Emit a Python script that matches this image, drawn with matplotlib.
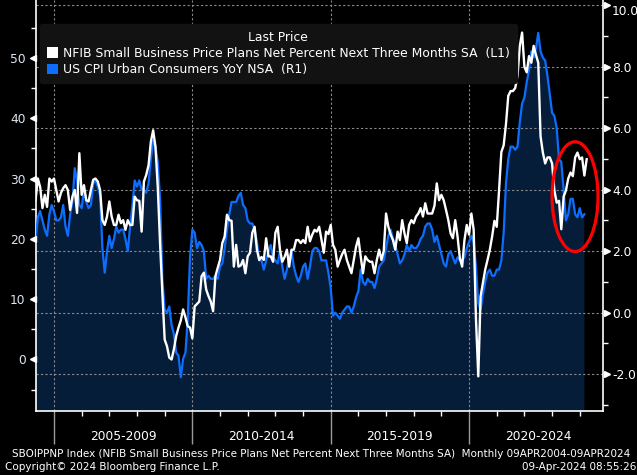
import numpy as np
import matplotlib
matplotlib.use("Agg")
import matplotlib.pyplot as plt
import matplotlib.transforms as mtransforms
from matplotlib.patches import Patch, Ellipse

# ---- data: monthly, Apr 2004 onwards ----
start_year, start_month = 2004, 4

# NFIB Small Business Price Plans Net % Next Three Months SA (left axis), Apr 2004 - Mar 2024
nfib = [
    26.4, 30.0, 28.6, 25.1, 27.3, 25.3, 30.0, 29.5, 30.0,
    28.1, 26.2, 27.6, 28.4, 28.9, 28.1, 24.8, 27.0, 28.1, 24.3, 34.2, 27.3,
    28.9, 26.4, 26.2, 28.1, 29.8, 30.0, 29.5, 28.1, 23.1, 22.3, 23.7, 26.2,
    23.7, 22.3, 22.3, 24.0, 22.6, 23.1, 21.5, 23.1, 22.3, 22.3, 27.0, 26.4,
    26.3, 21.2, 29.5, 30.6, 32.2, 36.1, 38.0, 35.3, 28.6, 19.3, 11.0, 3.3,
    2.2, 0.3, 0.0, 1.7, 3.9, 5.3, 6.5, 8.3, 7.0, 5.5, 5.3, 3.5,
    8.8, 9.2, 9.6, 13.8, 14.4, 11.6, 10.5, 9.6, 8.0, 13.8, 15.2, 16.5,
    19.3, 20.4, 24.0, 23.1, 23.0, 15.4, 19.0, 15.4, 15.6, 16.5, 14.3, 17.1,
    17.7, 21.0, 22.0, 18.2, 16.5, 17.0, 16.5, 20.1, 17.1, 17.1, 16.2, 21.0,
    22.0, 18.2, 16.2, 17.0, 18.2, 15.4, 18.2, 18.2, 19.8, 19.8, 19.3, 19.8,
    19.3, 22.0, 19.6, 20.7, 21.5, 21.2, 22.0, 19.8, 17.7, 21.2, 20.8, 22.3,
    19.0, 18.2, 15.4, 16.5, 17.5, 18.2, 16.5, 15.4, 14.3, 16.5, 18.7, 20.1,
    17.1, 14.3, 17.1, 16.5, 16.2, 16.2, 14.3, 16.5, 18.2, 16.5, 18.0, 24.2,
    22.0, 20.7, 19.8, 18.2, 21.2, 19.8, 23.1, 20.9, 19.3, 22.3, 23.1, 22.6,
    23.7, 24.2, 25.1, 23.7, 25.9, 24.2, 24.2, 24.2, 25.5, 29.2, 26.4, 27.3,
    26.4, 24.8, 23.1, 20.9, 20.1, 23.1, 20.4, 16.8, 15.4, 19.8, 22.3, 20.7,
    24.2, 21.5, 6.6, -2.8, 10.5, 12.7, 14.9, 16.5, 18.2, 20.4, 23.0, 22.0,
    28.0, 34.4, 35.5, 39.0, 43.7, 44.5, 44.5, 45.0, 47.0, 52.0, 54.2, 48.5,
    47.6, 50.3, 49.2, 52.0, 50.5, 49.2, 37.0, 34.3, 32.5, 33.5, 33.5, 32.5,
    28.0, 26.0, 26.3, 21.6, 27.0, 28.0, 30.0, 31.0, 30.4, 33.5, 34.3, 33.2,
    33.5, 30.5, 33.2,
]

# US CPI Urban Consumers YoY NSA (right axis), Apr 2004 - Feb 2024
cpi = [
    2.3, 3.1, 3.3, 3.0, 2.7, 2.5, 3.2, 3.5, 3.3,
    3.0, 3.0, 3.1, 3.5, 2.8, 2.5, 3.2, 3.6, 4.7, 4.3, 3.5, 3.4,
    4.0, 3.6, 3.4, 3.5, 4.2, 4.3, 4.1, 3.8, 2.1, 1.3, 2.0, 2.5,
    2.1, 2.4, 2.8, 2.6, 2.7, 2.7, 2.4, 2.0, 2.8, 3.5, 4.3, 4.1,
    4.3, 4.0, 4.0, 3.9, 4.2, 5.0, 5.6, 5.4, 4.9, 3.7, 1.1, 0.1,
    0.0, 0.2, -0.4, -0.7, -1.3, -1.4, -2.1, -1.5, -1.3, -0.2, 1.8, 2.7,
    2.6, 2.1, 2.3, 2.2, 2.0, 1.1, 1.2, 1.1, 1.1, 1.2, 1.1, 1.5,
    1.6, 2.1, 2.7, 3.2, 3.6, 3.6, 3.6, 3.8, 3.9, 3.5, 3.4, 3.0,
    2.9, 2.9, 2.7, 2.3, 1.7, 1.7, 1.4, 1.7, 2.0, 2.2, 1.8, 1.7,
    1.6, 2.0, 1.5, 1.1, 1.4, 1.8, 2.0, 1.5, 1.2, 1.0, 1.2, 1.5,
    1.6, 1.1, 1.5, 2.0, 2.1, 2.1, 2.0, 1.7, 1.7, 1.7, 1.3, 0.8,
    -0.1, 0.0, -0.1, -0.2, 0.0, 0.1, 0.2, 0.2, 0.0, 0.2, 0.5, 0.7,
    1.4, 1.0, 0.9, 1.1, 1.0, 1.0, 0.8, 1.1, 1.5, 1.6, 1.7, 2.1,
    2.5, 2.7, 2.4, 2.2, 1.9, 1.6, 1.7, 1.9, 2.2, 2.0, 2.2, 2.1,
    2.1, 2.2, 2.4, 2.5, 2.8, 2.9, 2.9, 2.7, 2.3, 2.5, 2.2, 1.9,
    1.6, 1.5, 1.9, 2.0, 1.8, 1.6, 1.8, 1.7, 1.7, 1.8, 2.1, 2.3,
    2.5, 2.3, 1.5, 0.3, 0.1, 0.6, 1.0, 1.3, 1.4, 1.2, 1.2, 1.4,
    1.4, 1.7, 2.6, 4.2, 5.0, 5.4, 5.4, 5.3, 5.4, 6.2, 6.8, 7.0,
    7.5, 7.9, 8.5, 8.3, 8.6, 9.1, 8.5, 8.3, 8.2, 7.7, 7.1, 6.5,
    6.4, 6.0, 5.0, 4.9, 4.0, 3.0, 3.2, 3.7, 3.7, 3.2, 3.1, 3.4,
    3.1, 3.2,
]

nfib_label = "NFIB Small Business Price Plans Net Percent Next Three Months SA  (L1)"
cpi_label = "US CPI Urban Consumers YoY NSA  (R1)"
period_starts = [2005, 2010, 2015, 2020]
period_labels = ["2005-2009", "2010-2014", "2015-2019", "2020-2024"]
left_ticks = [0, 10, 20, 30, 40, 50]
right_ticks = [-2, 0, 2, 4, 6, 8, 10]

# month-end positions as decimal years
def month_x(n):
    k = np.arange(n)
    return start_year + (start_month + k) / 12.0

x_nfib = month_x(len(nfib))
x_cpi = month_x(len(cpi))

BLUE = "#0d6efd"
NAVY = "#061d3a"
GRID = "#8a8a8a"

fig = plt.figure(figsize=(6.37, 4.75), dpi=100, facecolor="black")
ax = fig.add_axes([36 / 637, 1 - 411 / 475, (603 - 36) / 637, 411 / 475])
ax.set_facecolor("black")
ax2 = ax.twinx()

# CPI: right scale, filled area
ax.set_xlim(2004.35, 2024.84)
ax.set_ylim(-3.2, 10.17)
ax.fill_between(x_cpi, cpi, -10, color=NAVY, lw=0, zorder=1)
ax.plot(x_cpi, cpi, color=BLUE, lw=1.6, zorder=3)
ax.yaxis.tick_right()
ax.set_yticks(right_ticks)
ax.set_yticklabels([f"{v:.1f}" for v in right_ticks])
ax.set_yticks(np.arange(-3, 10, 2), minor=True)
ax.tick_params(axis="y", which="major", length=0, pad=6.5, labelsize=8.8,
               labelcolor="white")
ax.tick_params(axis="y", which="minor", length=3.5, color="white", width=1)
# keep the top label inside the picture
ax.yaxis.get_major_ticks()[-1].label2.set_va("top")

ax.set_axisbelow("line")
ax.grid(axis="y", which="major", color=GRID, ls=(0, (2, 2)), lw=0.8)
ax.grid(axis="x", which="major", color=GRID, ls=(0, (2, 2)), lw=0.8)

ax.set_xticks(period_starts)
ax.set_xticklabels([])
ax.set_xticks(np.arange(2005, 2025), minor=True)
ax.tick_params(axis="x", which="major", length=24, color="#9a9a9a", width=1)
ax.tick_params(axis="x", which="minor", length=3.5, color="white", width=1)

for side in ["left", "right", "bottom"]:
    ax.spines[side].set_color("white")
    ax.spines[side].set_linewidth(1.2)
ax.spines["top"].set_visible(False)

# NFIB: left scale, white line on top
ax2.set_ylim(-8.54, 59.6)
ax2.plot(x_nfib, nfib, color="white", lw=1.7, zorder=3)
ax2.yaxis.tick_left()
ax2.set_yticks(left_ticks)
ax2.set_yticks(np.arange(-5, 60, 10), minor=True)
ax2.tick_params(axis="y", which="major", length=0, pad=7.5, labelsize=8.8,
                labelcolor="#dde6f2")
ax2.tick_params(axis="y", which="minor", length=3.5, color="white", width=1)
for s in ax2.spines.values():
    s.set_visible(False)

# triangle tick markers
off_l = mtransforms.ScaledTranslation(-3 / 100, 0, fig.dpi_scale_trans)
off_r = mtransforms.ScaledTranslation(3.5 / 100, 0, fig.dpi_scale_trans)
ax2.plot(np.zeros(len(left_ticks)), left_ticks, "<", ms=4.5, color="white",
         transform=ax2.get_yaxis_transform() + off_l, clip_on=False)
ax.plot(np.ones(len(right_ticks)), right_ticks, ">", ms=4.5, color="white",
        transform=ax.get_yaxis_transform() + off_r, clip_on=False)

# period labels under the axis
for s, lab in zip(period_starts, period_labels):
    ax.text(s + 2.5, -0.063, lab, transform=ax.get_xaxis_transform(),
            ha="center", va="center", color="white", fontsize=8.8)

# red ellipse highlight
ax2.add_patch(Ellipse((2023.83, 27.0), 1.66, 18.2, fill=False,
                      edgecolor="#ff0000", lw=2.3, zorder=6, clip_on=False))

# legend
handles = [Patch(facecolor="white", edgecolor="none"),
           Patch(facecolor=BLUE, edgecolor="none")]
leg = ax2.legend(handles, [nfib_label, cpi_label], title="Last Price",
                 loc="upper left", bbox_to_anchor=(40 / 637, 1 - 24 / 475),
                 bbox_transform=fig.transFigure, borderaxespad=0,
                 fontsize=8.9, title_fontsize=8.9, labelcolor="white",
                 facecolor="#121212", edgecolor="#121212", framealpha=1,
                 handlelength=0.9, handleheight=0.9, handletextpad=0.4,
                 labelspacing=0.25, borderpad=0.55)
leg.get_title().set_color("white")
leg.set_zorder(10)

# footer
fig.text(12 / 637, 1 - 454 / 475,
         "SBOIPPNP Index (NFIB Small Business Price Plans Net Percent Next Three Months SA)  Monthly 09APR2004-09APR2024",
         color="white", fontsize=7.45, va="center")
fig.text(5 / 637, 1 - 467 / 475, "Copyright\u00a9 2024 Bloomberg Finance L.P.",
         color="white", fontsize=7.45, va="center")
fig.text(636 / 637, 1 - 467 / 475, "09-Apr-2024 08:55:26",
         color="white", fontsize=7.45, va="center", ha="right")

fig.savefig("out.png", dpi=100, facecolor="black")
